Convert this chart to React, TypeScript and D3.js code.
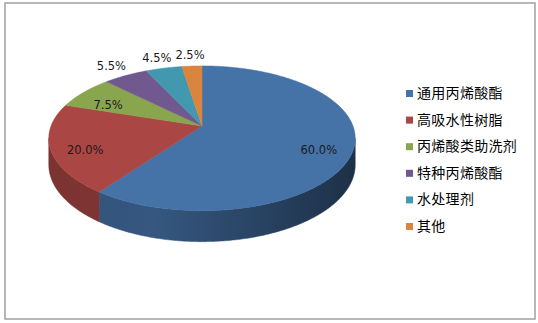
import React from 'react';
import * as d3 from 'd3';

const categories = ['通用丙烯酸酯', '高吸水性树脂', '丙烯酸类助洗剂', '特种丙烯酸酯', '水处理剂', '其他'];
const values = [60.0, 20.0, 7.5, 5.5, 4.5, 2.5];
const colors = ['#4572A7', '#AA4643', '#89A54E', '#71588F', '#4198AF', '#DB843D'];

const W = 538;
const H = 323;
const cx = 202;
const cy = 126;
const R = 151;
const K = 70.3;
const P = 0.17;
const DEPTH = 25.7;

function project(angle: number, f: number, z = 0): [number, number] {
  const X = Math.sin(angle) * f;
  const Y = -Math.cos(angle) * f;
  const w = 1 - P * Y;
  return [cx + (R * X) / w, cy + (K * Y) / w + z / w];
}

function arcPoints(a0: number, a1: number, z = 0): [number, number][] {
  const n = Math.max(2, Math.ceil(((a1 - a0) * 180) / Math.PI) * 2);
  return d3.range(n + 1).map((i) => project(a0 + ((a1 - a0) * i) / n, 1, z));
}

const line = d3.line<[number, number]>().curve(d3.curveLinear);
const fmt = d3.format('.1f');

export default function App() {
  const pie = d3.pie<number>().sort(null).value((d) => d)(values);
  const vis0 = Math.PI / 2 + Math.asin(P);
  const vis1 = (3 * Math.PI) / 2 - Math.asin(P);
  const legendY = d3.scaleLinear().domain([0, 1]).range([93, 119.6]);

  return (
    <svg width={W} height={H} style={{ position: 'absolute', left: 0, top: 0, background: '#fff' }}>
      <defs>
        {pie.map((d, i) => {
          const c = d3.color(colors[i])!;
          return (
            <linearGradient key={i} id={`side${i}`} gradientUnits="userSpaceOnUse" x1={cx - R * 1.02} x2={cx + R * 1.02} y1={0} y2={0}>
              <stop offset="0" stopColor={c.darker(0.9).formatHex()} />
              <stop offset="0.35" stopColor={c.darker(0.75).formatHex()} />
              <stop offset="1" stopColor={c.darker(2.4).formatHex()} />
            </linearGradient>
          );
        })}
      </defs>
      <rect x={5} y={3} width={530} height={316} fill="#fff" stroke="#a0a0a0" strokeWidth={1.5} />
      {pie.map((d, i) => {
        const s0 = Math.max(d.startAngle, vis0);
        const s1 = Math.min(d.endAngle, vis1);
        if (s1 <= s0) return null;
        const top = arcPoints(s0, s1, 0);
        const bottom = arcPoints(s0, s1, DEPTH).reverse();
        return (
          <path key={`s${i}`} d={line([...top, ...bottom])! + 'Z'} fill={`url(#side${i})`} stroke={`url(#side${i})`} strokeWidth={0.5} />
        );
      })}
      {pie.map((d, i) => {
        const pts = [project(0, 0), ...arcPoints(d.startAngle, d.endAngle, 0)];
        return <path key={`t${i}`} d={line(pts)! + 'Z'} fill={colors[i]} stroke={colors[i]} strokeWidth={0.5} />;
      })}
      {pie.map((d, i) => {
        const mid = (d.startAngle + d.endAngle) / 2;
        const inside = d.value >= 7;
        const [x, y] = project(mid, inside ? 0.78 : 1.22);
        return (
          <text key={`l${i}`} x={x} y={y + (inside ? 6 : 0)} dy="0.35em" textAnchor="middle" fontFamily="DejaVu Sans" fontSize={11.5} fill="#1a1a1a">
            {fmt(d.value)}%
          </text>
        );
      })}
      {categories.map((c, i) => (
        <g key={`g${i}`} transform={`translate(0,${legendY(i)})`}>
          <rect x={406} y={-3} width={7} height={7} fill={colors[i]} />
          <text x={417} y={0} dy="0.35em" fontFamily="Noto Sans CJK SC" fontSize={14} letterSpacing={0.3} fill="#000">
            {c}
          </text>
        </g>
      ))}
    </svg>
  );
}
